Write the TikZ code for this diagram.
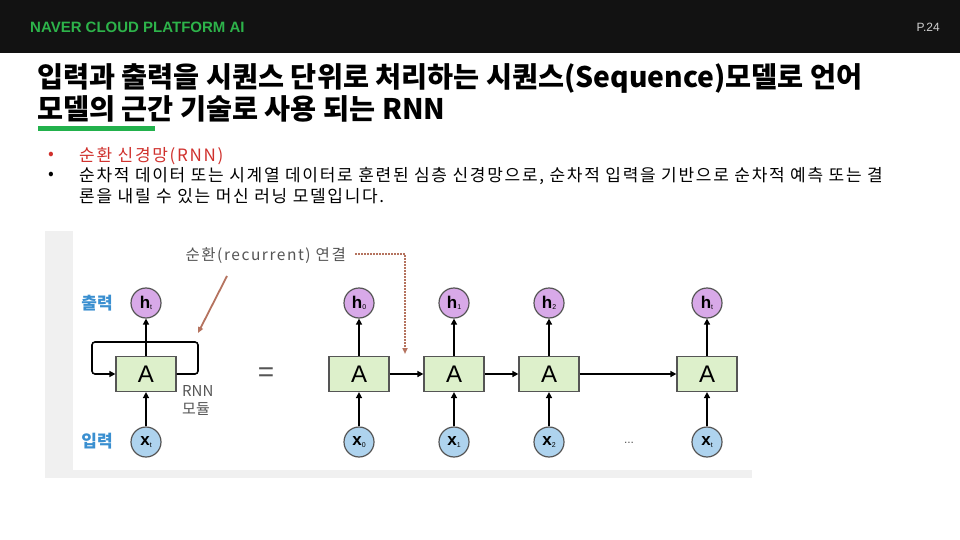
\documentclass[tikz,border=0pt]{standalone}
\usepackage{fontspec}
\setmainfont{Liberation Sans}
\newfontfamily\krfont{Noto Sans CJK KR}
\newfontfamily\krwide[LetterSpace=10]{Noto Sans CJK KR}
\usetikzlibrary{positioning,arrows.meta}
\definecolor{bar-black}{HTML}{121212}
\definecolor{naver-green}{HTML}{2DB34A}
\definecolor{line-green}{HTML}{22B14C}
\definecolor{page-grey}{HTML}{D0D0D0}
\definecolor{bullet-red}{HTML}{D0312D}
\definecolor{frame-grey}{HTML}{F0F0F0}
\definecolor{label-blue}{HTML}{3A8FD0}
\definecolor{label-grey}{HTML}{555555}
\definecolor{cell-edge}{HTML}{555555}
\definecolor{cell-green}{HTML}{DDF0CB}
\definecolor{h-purple}{HTML}{D8A9E8}
\definecolor{x-blue}{HTML}{AED3EE}
\definecolor{rec-brown}{HTML}{B5735F}
\newcommand{\cellsub}[2]{\textbf{#1}\raisebox{-1.5pt}{\fontsize{7}{7}\selectfont #2}}
\tikzset{
  cellbox/.style={draw=cell-edge, fill=cell-green, minimum width=60pt, minimum height=35pt,
    line width=1.2pt, font=\fontsize{24}{24}\selectfont},
  hidden/.style={circle, draw=cell-edge, fill=h-purple, minimum size=30pt, inner sep=0pt,
    line width=1.2pt, font=\fontsize{17}{17}\selectfont},
  input/.style={circle, draw=cell-edge, fill=x-blue, minimum size=30pt, inner sep=0pt,
    line width=1.2pt, font=\fontsize{17}{17}\selectfont},
  flow/.style={-{Triangle[length=6pt,width=6pt]}, line width=1.6pt},
  recur/.style={-{Triangle[length=6pt,width=5pt]}, draw=rec-brown, line width=1.8pt},
  side/.style={font=\krfont\bfseries\fontsize{17}{17}\selectfont, text=label-blue},
  note/.style={font=\krfont\fontsize{15}{18}\selectfont, text=label-grey, align=left},
  bodytext/.style={anchor=west, inner sep=0pt, font=\krwide\fontsize{17}{17}\selectfont},
}

\begin{document}
\begin{tikzpicture}[x=1pt, y=-1pt]
    \useasboundingbox[fill=white] (0,0) rectangle (960,540);

    % header bar
    \fill[bar-black] (0,0) rectangle (960,53);
    \node[anchor=west, inner sep=0pt, text=naver-green, font=\bfseries\fontsize{15}{15}\selectfont]
        (Brand) at (30,27) {NAVER CLOUD PLATFORM AI};
    \node[anchor=east, inner sep=0pt, text=page-grey, font=\fontsize{12}{12}\selectfont]
        (PageNo) at (940,27) {P.24};

    % title
    \node[anchor=west, inner sep=0pt, font=\krfont\bfseries\fontsize{28.3}{28.3}\selectfont]
        (TitleA) at (37,78) {입력과 출력을 시퀀스 단위로 처리하는 시퀀스(Sequence)모델로 언어};
    \node[anchor=west, inner sep=0pt, font=\krfont\bfseries\fontsize{28.3}{28.3}\selectfont]
        (TitleB) at (37,109) {모델의 근간 기술로 사용 되는 RNN};
    \fill[line-green] (38,126) rectangle (155,131);

    % bullets
    \node[bodytext, text=bullet-red] (DotA) at (48,156) {•};
    \node[bodytext, text=bullet-red] (ItemA) at (79,156) {순환 신경망(RNN)};
    \node[bodytext] (DotB) at (48,176) {•};
    \node[bodytext] (ItemB) at (79,176)
        {순차적 데이터 또는 시계열 데이터로 훈련된 심층 신경망으로, 순차적 입력을 기반으로 순차적 예측 또는 결};
    \node[bodytext] (ItemC) at (79,196) {론을 내릴 수 있는 머신 러닝 모델입니다.};

    % picture frame
    \fill[frame-grey] (45,231) rectangle (752,478);
    \fill[white] (73,231) rectangle (752,470);

    % folded RNN
    \node[cellbox] (Aloop) at (146,374) {A};
    \node[hidden] (Hloop) at (146,303) {\cellsub{h}{t}};
    \node[input] (Xloop) at (146,442) {\cellsub{x}{t}};
    \node[side] (OutLbl) at (97,303) {출력};
    \node[side] (InLbl) at (97,441) {입력};
    \node[note, anchor=north west, inner sep=0pt] (Module) at (182,385) {RNN\\모듈};
    \node[font=\fontsize{28}{28}\selectfont, text=label-grey] (Equal) at (266,375) {=};

    \coordinate (loopR) at (198,342);
    \coordinate (loopL) at (92,342);
    \draw[flow, rounded corners=3pt] (Aloop.east) -| (loopR) -- (loopL) |- (Aloop.west);
    \draw[flow] (Aloop) -- (Hloop);
    \draw[flow] (Xloop) -- (Aloop);

    % unrolled RNN
    \node[cellbox] (A0) at (359,374) {A};
    \node[cellbox] (A1) at (454,374) {A};
    \node[cellbox] (A2) at (549,374) {A};
    \node[cellbox] (At) at (707,374) {A};
    \node[hidden] (H0) at (359,303) {\cellsub{h}{0}};
    \node[hidden] (H1) at (454,303) {\cellsub{h}{1}};
    \node[hidden] (H2) at (549,303) {\cellsub{h}{2}};
    \node[hidden] (Ht) at (707,303) {\cellsub{h}{t}};
    \node[input] (X0) at (359,442) {\cellsub{x}{0}};
    \node[input] (X1) at (454,442) {\cellsub{x}{1}};
    \node[input] (X2) at (549,442) {\cellsub{x}{2}};
    \node[input] (Xt) at (707,442) {\cellsub{x}{t}};
    \node[text=label-grey, font=\fontsize{12}{12}\selectfont] (Dots) at (629,443) {...};

    \draw[flow] (A0) -- (H0);
    \draw[flow] (A1) -- (H1);
    \draw[flow] (A2) -- (H2);
    \draw[flow] (At) -- (Ht);
    \draw[flow] (X0) -- (A0);
    \draw[flow] (X1) -- (A1);
    \draw[flow] (X2) -- (A2);
    \draw[flow] (Xt) -- (At);
    \draw[flow] (A0) -- (A1);
    \draw[flow] (A1) -- (A2);
    \draw[flow] (A2) -- (At);

    % recurrent connection label
    \node[note, font=\krwide\fontsize{15.5}{18}\selectfont, anchor=east, inner sep=0pt]
        (RecLbl) at (346,256) {순환(recurrent) 연결};
    \coordinate (recStart) at (355,254);
    \coordinate (recEnd) at (405,354);
    \coordinate (diagStart) at (227,276);
    \coordinate (diagEnd) at (198,333);
    \draw[recur, dash pattern=on 2pt off 1pt] (recStart) -| (recEnd);
    \draw[recur] (diagStart) -- (diagEnd);
\end{tikzpicture}
\end{document}
